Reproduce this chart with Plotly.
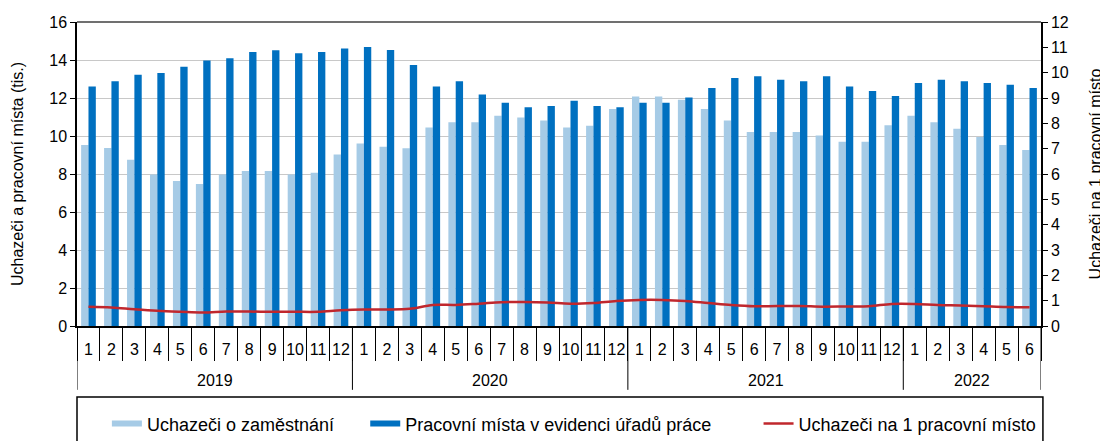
import plotly.graph_objects as go

years = ["2019"] * 12 + ["2020"] * 12 + ["2021"] * 12 + ["2022"] * 6
months = [str(m) for m in range(1, 13)] * 3 + [str(m) for m in range(1, 7)]

uchazeci = [9.53, 9.37, 8.75, 7.98, 7.63, 7.47, 7.98, 8.16, 8.16, 7.98, 8.07, 9.02,
            9.61, 9.44, 9.35, 10.45, 10.72, 10.72, 11.07, 10.98, 10.81, 10.45, 10.54, 11.42,
            12.08, 12.08, 11.91, 11.42, 10.81, 10.21, 10.21, 10.21, 10.03, 9.70, 9.70, 10.56,
            11.07, 10.72, 10.38, 9.95, 9.53, 9.26]
mista = [12.61, 12.88, 13.23, 13.32, 13.65, 13.98, 14.09, 14.42, 14.51, 14.35, 14.42, 14.60,
         14.68, 14.53, 13.74, 12.61, 12.88, 12.19, 11.75, 11.51, 11.58, 11.86, 11.58, 11.51,
         11.75, 11.75, 12.02, 12.53, 13.05, 13.14, 12.96, 12.88, 13.14, 12.61, 12.37, 12.11,
         12.79, 12.96, 12.88, 12.79, 12.70, 12.53]
na_misto = [0.76, 0.73, 0.66, 0.60, 0.56, 0.53, 0.57, 0.57, 0.56, 0.56, 0.56, 0.62,
            0.65, 0.65, 0.68, 0.83, 0.83, 0.88, 0.94, 0.95, 0.93, 0.88, 0.91, 0.99,
            1.03, 1.03, 0.99, 0.91, 0.83, 0.78, 0.79, 0.79, 0.76, 0.77, 0.78, 0.87,
            0.87, 0.83, 0.81, 0.78, 0.75, 0.74]

names = ["Uchazeči o zaměstnání", "Pracovní místa v evidenci úřadů práce",
         "Uchazeči na 1 pracovní místo"]

LIGHT = "#A6CBE6"
DARK = "#0070C0"
RED = "#C0272D"
FONT = "Liberation Sans, Arial, sans-serif"

n = len(months)
idx = list(range(n))

# year groups derived from the category list
groups = []
start = 0
for i in range(1, n + 1):
    if i == n or years[i] != years[start]:
        groups.append((years[start], start, i - 1))
        start = i

fig = go.Figure()
fig.add_trace(go.Bar(x=idx, y=uchazeci, name=names[0], marker=dict(color=LIGHT, line_width=0),
                     showlegend=False))
fig.add_trace(go.Bar(x=idx, y=mista, name=names[1], marker=dict(color=DARK, line_width=0),
                     showlegend=False))
fig.add_trace(go.Scatter(x=idx, y=na_misto, name=names[2], yaxis="y2", mode="lines",
                         line=dict(color=RED, width=2.5, shape="spline"), showlegend=False))

# legend entries
fig.add_trace(go.Scatter(x=[None], y=[None], mode="lines", name=names[0],
                         line=dict(color=LIGHT, width=6), legend="legend"))
fig.add_trace(go.Scatter(x=[None], y=[None], mode="lines", name=names[1],
                         line=dict(color=DARK, width=6), legend="legend2"))
fig.add_trace(go.Scatter(x=[None], y=[None], mode="lines", name=names[2],
                         line=dict(color=RED, width=2.5), legend="legend3"))

leg_common = dict(orientation="h", yanchor="middle", y=-0.322, xanchor="left",
                  bgcolor="rgba(0,0,0,0)", borderwidth=0,
                  font=dict(family=FONT, size=18, color="#000000"))

shapes = [
    dict(type="line", xref="paper", yref="paper", x0=0, x1=1, y0=1, y1=1,
         line=dict(color="#404040", width=1.5)),
    dict(type="rect", xref="paper", yref="paper", x0=0, x1=1.002, y0=-0.2336, y1=-0.6,
         line=dict(color="#000000", width=1.5), fillcolor="rgba(0,0,0,0)"),
]
annotations = []
for name, a, b in groups:
    shapes.append(dict(type="line", xref="x", yref="paper", x0=a - 0.5, x1=a - 0.5,
                       y0=0, y1=-0.21, line=dict(color="#000000", width=1)))
    annotations.append(dict(x=(a + b) / 2, y=-0.178, xref="x", yref="paper", text=name,
                            showarrow=False, yanchor="middle", xanchor="center",
                            font=dict(family=FONT, size=16, color="#000000")))
shapes.append(dict(type="line", xref="x", yref="paper", x0=n - 0.5, x1=n - 0.5,
                   y0=0, y1=-0.21, line=dict(color="#000000", width=1)))

fig.update_layout(
    width=1108, height=441,
    margin=dict(l=69, r=75, t=14, b=123, autoexpand=False),
    paper_bgcolor="white", plot_bgcolor="white",
    font=dict(family=FONT, size=16, color="#000000"),
    barmode="group", bargap=0.36, bargroupgap=0,
    legend=dict(x=0.031, **leg_common),
    legend2=dict(x=0.299, **leg_common),
    legend3=dict(x=0.707, **leg_common),
    xaxis=dict(range=[-0.5, n - 0.5], tickmode="array", tickvals=idx, ticktext=months,
               showline=True, linecolor="#000000", linewidth=1.5,
               ticks="", ticklabelstandoff=8, tickangle=0, showgrid=False, zeroline=False,
               automargin=False, tickfont=dict(size=16),
               minor=dict(tickmode="array", tickvals=[i - 0.5 for i in range(n + 1)],
                          ticks="outside", ticklen=33, tickcolor="#000000", tickwidth=1,
                          showgrid=False)),
    yaxis=dict(range=[0, 16], dtick=2, showline=True, linecolor="#000000", linewidth=1.5,
               ticks="outside", ticklen=5, tickcolor="#000000", automargin=False,
               gridcolor="#C8C8C8", gridwidth=1, zeroline=False,
               title=dict(text="Uchazeči a pracovní místa (tis.)", standoff=22,
                          font=dict(size=16))),
    yaxis2=dict(range=[0, 12], dtick=1, overlaying="y", side="right", showline=True,
                linecolor="#000000", linewidth=1.5, ticks="outside", ticklen=5,
                tickcolor="#000000", showgrid=False, zeroline=False, automargin=False,
                title=dict(text="Uchazeči na 1 pracovní místo", standoff=22,
                           font=dict(size=16))),
    shapes=shapes,
    annotations=annotations,
)

fig.write_html("out.html")
